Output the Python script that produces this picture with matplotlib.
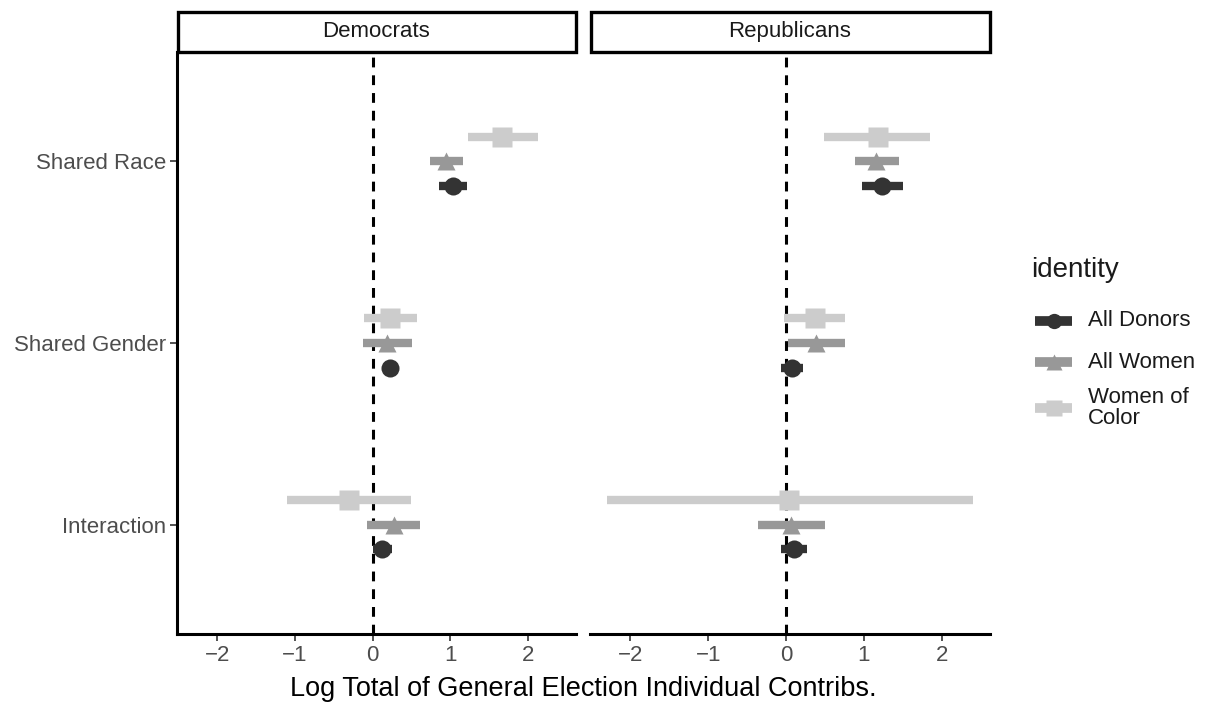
import numpy as np
import matplotlib
matplotlib.use("Agg")
import matplotlib.pyplot as plt
from matplotlib.lines import Line2D
from matplotlib.patches import Rectangle

plt.rcParams["font.family"] = ["Liberation Sans", "DejaVu Sans"]

# ----------------------------------------------------------------------
# Data
# ----------------------------------------------------------------------
terms = ["Interaction", "Shared Gender", "Shared Race"]
groups = ["All Donors", "All Women", "Women of Color"]
legend_labels = ["All Donors", "All Women", "Women of\nColor"]
panels = ["Democrats", "Republicans"]

# estimates per panel, per group, ordered like `terms`
dem_est = {"All Donors":     [0.12, 0.23, 1.03],
           "All Women":      [0.27, 0.19, 0.95],
           "Women of Color": [-0.30, 0.22, 1.67]}
dem_lo = {"All Donors":     [0.01, 0.15, 0.85],
          "All Women":      [-0.07, -0.12, 0.74],
          "Women of Color": [-1.10, -0.11, 1.23]}
dem_hi = {"All Donors":     [0.25, 0.30, 1.22],
          "All Women":      [0.61, 0.51, 1.16],
          "Women of Color": [0.49, 0.57, 2.13]}

rep_est = {"All Donors":     [0.10, 0.08, 1.23],
           "All Women":      [0.06, 0.38, 1.16],
           "Women of Color": [0.04, 0.37, 1.18]}
rep_lo = {"All Donors":     [-0.06, -0.07, 0.97],
          "All Women":      [-0.36, 0.03, 0.89],
          "Women of Color": [-2.30, -0.03, 0.49]}
rep_hi = {"All Donors":     [0.27, 0.22, 1.50],
          "All Women":      [0.50, 0.76, 1.45],
          "Women of Color": [2.40, 0.76, 1.85]}

colors = {"All Donors": "#333333", "All Women": "#989898", "Women of Color": "#CCCCCC"}
markers = {"All Donors": "o", "All Women": "^", "Women of Color": "s"}
msizes = {"All Donors": 13, "All Women": 13, "Women of Color": 14}
offsets = {"All Donors": -0.135, "All Women": 0.0, "Women of Color": 0.135}
# draw order: lightest first so dark sits on top
draw_order = ["Women of Color", "All Women", "All Donors"]

# ----------------------------------------------------------------------
W, H = 1209, 709
fig = plt.figure(figsize=(W / 100, H / 100), dpi=100)

def fx(px):
    return px / W

def fy(py):
    return 1 - py / H

panel_box = [(177, 576), (590, 990)]
top_px, bot_px = 52, 634
tick_col = "#4D4D4D"

data = [(dem_est, dem_lo, dem_hi), (rep_est, rep_lo, rep_hi)]
ypos = np.arange(1, len(terms) + 1)

for k, (name, (x0, x1), (est, lo, hi)) in enumerate(zip(panels, panel_box, data)):
    ax = fig.add_axes([fx(x0), fy(bot_px), fx(x1 - x0), (bot_px - top_px) / H])
    ax.axvline(0, color="black", ls=(0, (3.2, 2.6)), lw=2.2, zorder=1)
    for g in draw_order:
        y = ypos + offsets[g]
        ax.hlines(y, lo[g], hi[g], color=colors[g], lw=6, zorder=2)
        ax.plot(est[g], y, ls="none", marker=markers[g], ms=msizes[g],
                color=colors[g], mec="none", zorder=3)
    ax.set_xlim(-2.52, 2.62)
    ax.set_ylim(0.4, 3.6)
    ax.set_xticks([-2, -1, 0, 1, 2])
    ax.set_xticklabels(["\u22122", "\u22121", "0", "1", "2"])
    ax.tick_params(axis="x", length=5, width=1.2, color="#333333",
                   labelsize=16, labelcolor=tick_col, pad=3)
    for s in ["top", "right"]:
        ax.spines[s].set_visible(False)
    ax.spines["bottom"].set_linewidth(2.2)
    if k == 0:
        ax.spines["left"].set_linewidth(2.2)
        ax.set_yticks(ypos)
        ax.set_yticklabels(terms)
        ax.tick_params(axis="y", length=5, width=1.2, color="#333333",
                       labelsize=16, labelcolor=tick_col, pad=3)
    else:
        ax.spines["left"].set_visible(False)
        ax.set_yticks([])

    # facet strip
    fig.patches.append(Rectangle((fx(x0 + 1), fy(52)), fx(x1 - x0 - 1), (52 - 12) / H,
                                 transform=fig.transFigure, facecolor="white",
                                 edgecolor="black", lw=2.4, zorder=5))
    fig.text(fx((x0 + x1) / 2), fy(37), name, ha="center", va="baseline",
             fontsize=16, color="#1A1A1A", zorder=6)

fig.text(fx(583), fy(689), "Log Total of General Election Individual Contribs.",
         ha="center", va="center", fontsize=19.5, color="black")

# ----------------------------------------------------------------------
# Legend, laid out by hand to match the ggplot guide spacing
# ----------------------------------------------------------------------
fig.text(fx(1031), fy(270), "identity", ha="left", va="center",
         fontsize=20, color="#1A1A1A")
key_y = [321, 362, 408]
for g, lab, yk in zip(groups, legend_labels, key_y):
    fig.add_artist(Line2D([fx(1035), fx(1072)], [fy(yk), fy(yk)], color=colors[g],
                          lw=7, solid_capstyle="butt", transform=fig.transFigure))
    fig.add_artist(Line2D([fx(1053.5)], [fy(yk)], color=colors[g], ls="none",
                          marker=markers[g], ms=msizes[g] - 2, mec="none",
                          transform=fig.transFigure))
    fig.text(fx(1088), fy(yk), lab, ha="left", va="center", fontsize=16,
             color="#1A1A1A", linespacing=0.95)

fig.savefig("out.png", dpi=100)
